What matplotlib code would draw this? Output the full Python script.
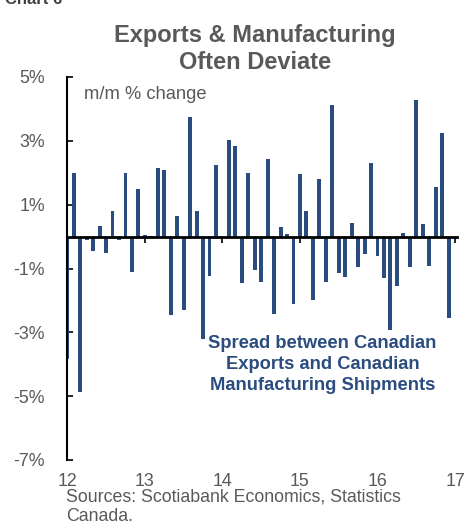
import matplotlib

matplotlib.use("Agg")
import matplotlib.pyplot as plt
import numpy as np

# Monthly spread, Jan 2012 .. Dec 2016 (m/m % change)
spread = [
    -3.82, 1.98, -4.86, -0.12, -0.44, 0.32, -0.52, 0.81, -0.12, 1.98, -1.12, 1.48,
    0.05, 0.03, 2.15, 2.08, -2.47, 0.65, -2.29, 3.75, 0.81, -3.20, -1.22, 2.25,
    -0.05, 3.03, 2.84, -1.46, 1.98, -1.06, -1.43, 2.43, -2.44, 0.29, 0.08, -2.10,
    1.96, 0.79, -1.98, 1.80, -1.41, 4.13, -1.14, -1.27, 0.42, -0.96, -0.54, 2.32,
    -0.61, -1.29, -2.94, -1.55, 0.10, -0.94, 4.27, 0.40, -0.91, 1.54, 3.26, -2.55,
]
year_labels = ["12", "13", "14", "15", "16", "17"]
y_ticks = [5, 3, 1, -1, -3, -5, -7]

BAR = "#2b4c7e"
GREY = "#595959"
FONT = "Liberation Sans"

plt.rcParams["font.family"] = [FONT, "DejaVu Sans"]

fig = plt.figure(figsize=(4.69, 5.25), dpi=100)
ax = fig.add_axes([67 / 469, 65 / 525, 390 / 469, 383 / 525])

months = np.arange(len(spread))
ax.bar(months, spread, width=0.6, color=BAR, zorder=2)

ax.set_xlim(-0.05, 60.3)
ax.set_ylim(-7, 5)

# left axis
ax.set_yticks(y_ticks)
ax.set_yticklabels([f"{v}%" for v in y_ticks], color=GREY, fontsize=12.8)
ax.tick_params(axis="y", direction="in", length=4, width=1.2, pad=16)
ax.spines["left"].set_linewidth(1.5)
ax.spines["top"].set_visible(False)
ax.spines["right"].set_visible(False)

# x axis line at zero, labels at the bottom
ax.spines["bottom"].set_position(("data", 0))
ax.spines["bottom"].set_linewidth(2)
ax.spines["bottom"].set_zorder(3)
year_pos = [12 * i for i in range(len(year_labels))]
ax.set_xticks(year_pos)
ax.set_xticklabels([])
ax.tick_params(axis="x", direction="out", length=4, width=1.2)

sec = ax.secondary_xaxis(0)
sec.set_xticks(year_pos)
sec.set_xticklabels(year_labels, color=GREY, fontsize=12.8)
sec.tick_params(length=0, pad=9)
sec.spines["bottom"].set_visible(False)

ax.text(0.044, 0.955, "m/m % change", transform=ax.transAxes, color=GREY,
        fontsize=13.2, ha="left", va="center")
ax.text(0.655, 0.249, "Spread between Canadian\nExports and Canadian\nManufacturing Shipments",
        transform=ax.transAxes, color=BAR, fontsize=13.2, fontweight="bold",
        ha="center", va="center", linespacing=1.3)

fig.text(255 / 469, 1 - 49 / 525, "Exports & Manufacturing\nOften Deviate",
         ha="center", va="center", color=GREY, fontsize=17, fontweight="bold",
         linespacing=1.25)
fig.text(0.01, 1 - 4 / 525, "Chart 6", ha="left", va="baseline", color="#404040",
         fontsize=12, fontweight="bold")
fig.text(66 / 469, 1 - 507 / 525, "Sources: Scotiabank Economics, Statistics\nCanada.",
         ha="left", va="center", color=GREY, fontsize=12.8, linespacing=1.2)

fig.savefig("out.png", dpi=100)
